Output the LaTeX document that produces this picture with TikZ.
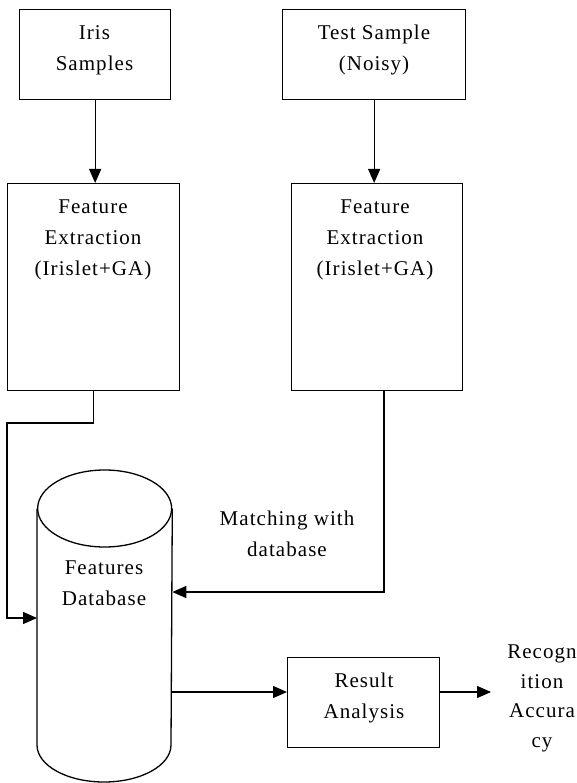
\documentclass[tikz,border=0pt]{standalone}
\usepackage{fontspec}
\setmainfont[LetterSpace=5]{Liberation Serif}
\usetikzlibrary{arrows.meta}
\begin{document}
\begin{tikzpicture}[x=1pt,y=-1pt,line width=1.3pt,
  box/.style={draw,inner sep=0pt,anchor=north west},
  hold/.style={inner sep=0pt,anchor=north west},
  lbl/.style={font=\fontsize{21}{31}\selectfont,align=center,inner sep=0pt,anchor=base},
  arr/.style={-{Triangle[length=14pt,width=12pt]}}]
\useasboundingbox (0,0) rectangle (577,783);
% boxes
\node[box,minimum width=151pt,minimum height=90pt] (iris) at (19,9) {};
\node[box,minimum width=183pt,minimum height=90pt] (test) at (282,9) {};
\node[box,minimum width=172pt,minimum height=207pt] (fe1) at (7,183) {};
\node[box,minimum width=171pt,minimum height=207pt] (fe2) at (291,183) {};
\node[box,minimum width=152pt,minimum height=90pt] (res) at (287,657) {};
% cylinder (database)
\node[hold,minimum width=134pt,minimum height=312pt] (db) at (37,470) {};
\draw (db.west |- 0,508.5) -- (db.west |- 0,745)
      arc[start angle=180,end angle=360,x radius=67pt,y radius=37pt]
      -- (db.east |- 0,508.5);
\draw (db.north |- 0,508.5) ellipse[x radius=67pt,y radius=38.5pt];
% texts (anchored at the baseline of the last line)
\node[lbl] (tIris) at (94.5,71) {Iris\\Samples};
\node[lbl] (tTest) at (374,71) {Test Sample\\(Noisy)};
\node[lbl] (tFe1) at (93,275) {Feature\\Extraction\\(Irislet+GA)};
\node[lbl] (tFe2) at (375,275) {Feature\\Extraction\\(Irislet+GA)};
\node[lbl] (tDb) at (104,605) {Features\\Database};
\node[lbl] (tMatch) at (287,556) {Matching with\\database};
\node[lbl] (tRes) at (364,718) {Result\\Analysis};
\node[lbl,font=\fontsize{21}{29.5}\selectfont] (rec) at (542,747) {Recogn\\ition\\Accura\\cy};
% connectors
\coordinate (b1) at (7,423);
\coordinate (b2) at (384,592);
\coordinate (recin) at (491,692);
\draw[arr] (iris.south) -- (iris.south |- fe1.north);
\draw[arr] (test.south) -- (test.south |- fe2.north);
\draw[arr] (fe1.south) |- (b1) |- (db.west |- 0,618);
\draw[arr] (fe2.south -| b2) -- (b2) -- (db.east |- b2);
\draw[arr] (db.east |- recin) -- (res.west |- recin);
\draw[arr] (res.east |- recin) -- (recin);
\end{tikzpicture}
\end{document}
